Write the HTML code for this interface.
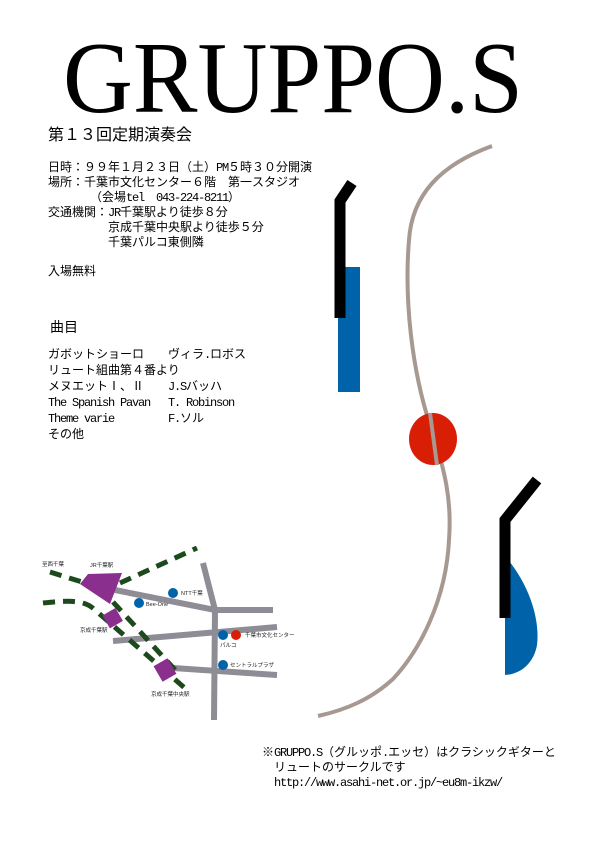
<!DOCTYPE html>
<html><head><meta charset="utf-8"><style>
html,body{margin:0;padding:0;background:#fff;}
body{width:602px;height:846px;position:relative;overflow:hidden;font-family:"Liberation Mono","Noto Sans CJK JP",monospace;color:#000;}
.t{position:absolute;white-space:pre;font-size:12px;line-height:15px;}
.a{letter-spacing:-1.2px;}
svg{position:absolute;left:0;top:0;}
</style></head><body>
<svg width="602" height="846" viewBox="0 0 602 846">
<text x="63" y="112" font-family="Liberation Serif, serif" font-size="102" textLength="460" lengthAdjust="spacingAndGlyphs">GRUPPO.S</text>
<path d="M492,146 C440,165 412,195 409,240 C404,300 412,370 430,425 C445,470 452,500 449,540 C446,600 420,650 393,679 C370,700 345,710 318,716" fill="none" stroke="#a79891" stroke-width="4"/>
<rect x="338" y="267" width="22" height="125" fill="#0062a8"/>
<polyline points="352,183 340,201 340,318" fill="none" stroke="#000" stroke-width="11"/>
<ellipse cx="433" cy="439" rx="24" ry="26" fill="#d81e05"/>
<line x1="430" y1="413" x2="437" y2="465" stroke="#a79891" stroke-width="4"/>
<path d="M505,556 C530,585 540,620 537,645 C534,662 522,674 505,675 Z" fill="#0062a8"/>
<polyline points="537,480 505,520 505,618" fill="none" stroke="#000" stroke-width="11"/>
<g stroke="#8e8c94" stroke-width="6" fill="none">
<polyline points="203,563 215,610 214,720"/>
<polyline points="115,590 215,610 273,610"/>
<line x1="113" y1="641" x2="277" y2="627"/>
<line x1="173" y1="668" x2="277" y2="675"/>
</g>
<g stroke="#1d4a1d" stroke-width="5" fill="none" stroke-dasharray="12,8">
<path d="M50,572 L82,582"/>
<path d="M120,583 L197,548"/>
<path d="M113,602 L177,672"/>
<path d="M43,603 C70,600 85,600 95,610 L187,690"/>
</g>
<polygon points="80,584 88,574 122,573 110,604" fill="#8b2f8e"/>
<rect x="105" y="611" width="15" height="15" fill="#8b2f8e" transform="rotate(-30 112 618)"/>
<rect x="157" y="661" width="16" height="18" fill="#8b2f8e" transform="rotate(-30 165 670)"/>
<g fill="#0062a8"><circle cx="173" cy="593" r="5"/><circle cx="139" cy="603" r="5"/><circle cx="223" cy="635" r="5"/><circle cx="223" cy="665" r="5"/></g>
<circle cx="236" cy="635" r="5" fill="#d81e05"/>
<g font-family="Liberation Sans, Noto Sans CJK JP, sans-serif" font-size="5.5" fill="#222">
<text x="42" y="566">至西千葉</text>
<text x="90" y="567">JR千葉駅</text>
<text x="181" y="595">NTT千葉</text>
<text x="146" y="606">Bee-One</text>
<text x="80" y="632">京成千葉駅</text>
<text x="245" y="637">千葉市文化センター</text>
<text x="220" y="647">パルコ</text>
<text x="230" y="667">セントラルプラザ</text>
<text x="151" y="696">京成千葉中央駅</text>
</g>
</svg>
<div class="t" style="left:48px;top:126px;font-size:16px;line-height:20px;">第１３回定期演奏会</div>
<div class="t" style="left:48px;top:161px;">日時：９９年１月２３日（土）<span class="a">PM</span>５時３０分開演
場所：千葉市文化センター６階　第一スタジオ
　　　　（会場<span class="a">tel  043-224-8211</span>）
交通機関：<span class="a">JR</span>千葉駅より徒歩８分
　　　　　京成千葉中央駅より徒歩５分
　　　　　千葉パルコ東側隣</div>
<div class="t" style="left:48px;top:265px;">入場無料</div>
<div class="t" style="left:50px;top:320px;font-size:14px;line-height:18px;">曲目</div>
<div class="t" style="left:48px;top:347px;line-height:16px;">ガボットショーロ　　ヴィラ<span class="a">.</span>ロボス
リュート組曲第４番より
メヌエットⅠ、Ⅱ　　<span class="a">J.S</span>バッハ
<span class="a">The Spanish Pavan   T. Robinson</span>
<span class="a">Theme varie         F.</span>ソル
その他</div>
<div class="t" style="left:262px;top:746px;">※<span class="a">GRUPPO.S</span>（グルッポ<span class="a">.</span>エッセ）はクラシックギターと
　リュートのサークルです
　<span class="a">http://www.asahi-net.or.jp/~eu8m-ikzw/</span></div>
</body></html>
